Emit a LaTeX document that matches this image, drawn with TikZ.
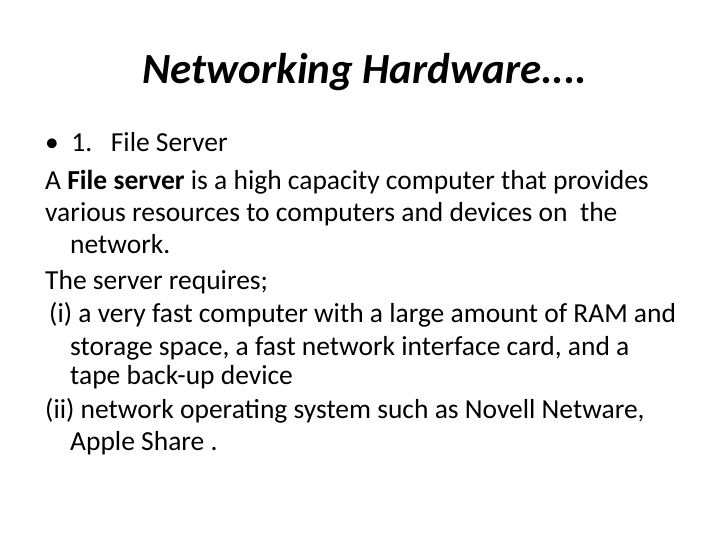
\documentclass[tikz,border=0pt]{standalone}
\usepackage{fontspec}
\setmainfont{Carlito}
\begin{document}
\begin{tikzpicture}[x=1pt,y=-1pt,
  line/.style={anchor=base west, inner sep=0pt, font=\fontsize{27.5}{32}\selectfont}]
				% Frame and title:
				\useasboundingbox (0,0) rectangle (720,540);
				\node[font=\fontsize{43}{48}\selectfont\bfseries\itshape, anchor=base] (title) at (365,84) {Networking Hardware....};
				% Body lines:
				\node[line] (l1) at (45,152) {\textbullet\ \ 1.\ \ \ File Server};
				\node[line] (l2) at (45,190) {A \textbf{File server} is a high capacity computer that provides};
				\node[line] (l3) at (45,222) {various resources to computers and devices on\ \ the};
				\node[line] (l4) at (70,254) {network.};
				\node[line] (l5) at (45,289) {The server requires;};
				\node[line] (l6) at (49,322) {(i) a very fast computer with a large amount of RAM and};
				\node[line] (l7) at (70,355) {storage space, a fast network interface card, and a};
				\node[line] (l8) at (70,384) {tape back-up device};
				\node[line] (l9) at (45,418) {(ii) network operating system such as Novell Netware,};
				\node[line] (l10) at (70,450) {Apple Share .};
			\end{tikzpicture}
\end{document}
